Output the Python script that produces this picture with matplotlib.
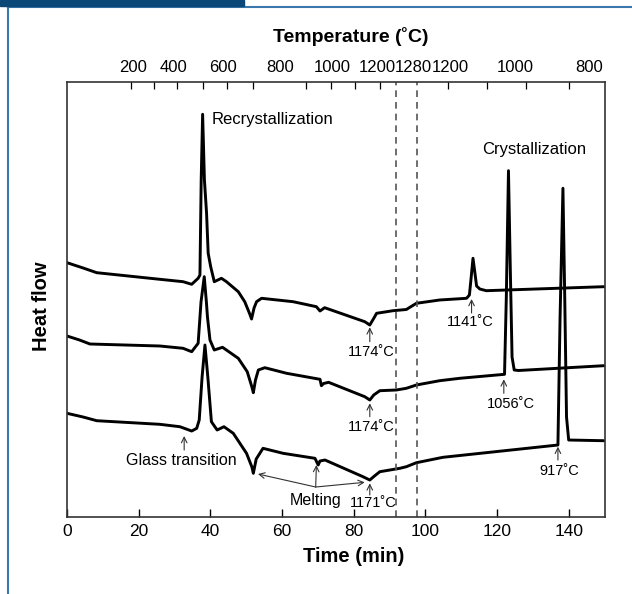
import matplotlib.pyplot as plt
from matplotlib.patches import Rectangle
from matplotlib.lines import Line2D

plt.rcParams['font.family'] = ['Liberation Sans', 'DejaVu Sans']

# DSC traces: time (min) vs heat flow (arbitrary units, offset per sample)
t1 = [0, 4.5, 8.3, 25.9, 32.4, 34.8, 36.6, 37.1, 37.45, 37.85, 38.35, 38.95, 39.4, 40.1, 41.1,
      43.1, 44.5, 47.8, 49.6, 51.0, 51.5, 52.2, 52.9, 54.3, 63.1, 69.6, 70.6, 71.9, 83.1, 84.5,
      85.5, 86.4, 91.0, 94.7, 97.5, 104.0, 111.5, 112.3, 112.8, 113.3, 113.8, 114.3, 115.2,
      117.0, 149.8]
h1 = [254.3, 249, 244.3, 237.7, 235.3, 232.7, 238.7, 242, 337, 402.7, 337, 303.7, 263.7, 250.3,
      235.3, 238.7, 235.3, 225.3, 215.3, 203, 198, 209, 215.3, 218.7, 215.3, 210.3, 206, 209.3,
      195.3, 192, 198, 203.7, 206.3, 207.5, 213.7, 217, 218.7, 222, 240, 258.7, 245, 231, 228,
      226.3, 230.3]

t2 = [0, 3.5, 6.4, 25.9, 32.4, 34.8, 36.6, 37.4, 38.3, 38.9, 39.2, 39.9, 41.1, 43.4, 47.8,
      50.3, 51.6, 52.0, 52.6, 53.4, 55.2, 61.3, 70.6, 71.0, 71.6, 73.0, 83.1, 84.5, 85.6,
      87.3, 91.9, 94.7, 97.5, 104.0, 109.6, 122.1, 122.6, 123.2, 123.7, 124.2, 124.8, 126.0,
      149.8]
h2 = [181, 177, 173, 171, 168.7, 165.3, 173.7, 215, 240.3, 215, 200, 177, 167, 169.7, 158.7,
      145.3, 130, 124.3, 137, 147, 149.3, 143.7, 137.7, 131.3, 133.5, 134.7, 120.3, 117, 122,
      126.3, 127, 128.7, 132, 136.3, 138.7, 142.7, 220, 346.3, 250, 160, 147, 146.5, 151.3]

t3 = [0, 4.5, 8.3, 25.9, 31.5, 34.8, 36.2, 36.9, 37.7, 38.5, 39.3, 40.3, 41.9, 43.8, 46.4,
      50.1, 51.6, 52.0, 52.8, 54.7, 60.3, 69.2, 70.1, 70.6, 72.0, 82.6, 84.5, 85.8, 87.3,
      92.9, 94.7, 97.5, 104.9, 137.0, 137.6, 138.4, 138.9, 139.4, 140.0, 149.8]
h3 = [103.7, 100, 96.3, 92.7, 90.3, 86, 88.7, 97, 140, 172, 140, 95.3, 87, 90.3, 83.7,
      63.7, 50, 43.7, 58, 68.7, 63.7, 58.7, 52, 56, 57, 40.3, 37, 41, 45.3,
      48.7, 50.3, 54.3, 59.7, 72, 200, 328.7, 220, 100, 77, 76.3]

time_ticks = [0, 20, 40, 60, 80, 100, 120, 140]
temp_tick_times = [18.0, 24.3, 30.6, 38.0, 44.7, 52.0, 59.4, 66.8, 73.8, 80.3, 87.3,
                   106.3, 117.2, 128.2, 140.0]
temp_label_times = [18.3, 29.6, 43.6, 59.4, 74.0, 86.6, 96.7, 106.9, 125.0, 145.8]
temp_labels = ['200', '400', '600', '800', '1000', '1200', '1280', '1200', '1000', '800']
hold_start, hold_end = 91.9, 97.6

fig = plt.figure(figsize=(6.32, 5.94), dpi=100)
ax = fig.add_axes([0.106, 0.1296, 0.8505, 0.7329])

for t, h in [(t1, h1), (t2, h2), (t3, h3)]:
    ax.plot(t, h, color='black', lw=2.1, solid_joinstyle='round', solid_capstyle='round')

for tx in (hold_start, hold_end):
    ax.axvline(tx, color='#555555', lw=1.2, ls=(0, (4, 3)))

ax.set_xlim(0, 150)
ax.set_ylim(0, 435.3)
ax.set_yticks([])
ax.set_xticks(time_ticks)
ax.tick_params(axis='x', direction='in', length=6, width=1, pad=5, labelsize=12.5)
for s in ax.spines.values():
    s.set_linewidth(1.2)
    s.set_color('#333333')

# temperature scale on top
ax2 = ax.twiny()
ax2.set_xlim(ax.get_xlim())
ax2.set_xticks(temp_label_times)
ax2.set_xticklabels(temp_labels)
ax2.set_xticks(temp_tick_times, minor=True)
ax2.tick_params(axis='x', which='major', length=0, pad=5, labelsize=12)
ax2.tick_params(axis='x', which='minor', direction='in', length=5, width=0.9)
for s in ax2.spines.values():
    s.set_visible(False)

fig.text(0.555, 0.939, 'Temperature (˚C)', ha='center', va='center', fontsize=14, fontweight='bold')
fig.text(0.5597, 0.063, 'Time (min)', ha='center', va='center', fontsize=14.5, fontweight='bold')
fig.text(0.065, 0.4837, 'Heat flow', ha='center', va='center', rotation=90,
         fontsize=14.5, fontweight='bold')

ax.text(40.3, 397, 'Recrystallization', ha='left', va='center', fontsize=12)
ax.text(115.9, 367, 'Crystallization', ha='left', va='center', fontsize=12)

arrow = dict(arrowstyle='->', lw=0.8, color='#333333', shrinkA=0, shrinkB=0)

# (x, arrow tip, arrow tail, text x, text y, text)
marks = [
    (112.9, 218, 204, 112.6, 195.3, '1141˚C'),
    (84.5, 189.7, 175.3, 85.0, 165.3, '1174˚C'),
    (84.5, 113.7, 100.3, 85.0, 90.3, '1174˚C'),
    (121.9, 137.7, 123.7, 124.0, 113, '1056˚C'),
    (137.0, 70.3, 57, 137.5, 46.3, '917˚C'),
    (84.5, 33.7, 22, 85.4, 13.7, '1171˚C'),
]
for x, tip, tail, tx, ty, s in marks:
    ax.annotate('', xy=(x, tip), xytext=(x, tail), arrowprops=arrow)
    ax.text(tx, ty, s, ha='center', va='center', fontsize=10.5)

ax.annotate('', xy=(32.7, 81), xytext=(32.7, 67), arrowprops=arrow)
ax.text(32.0, 57, 'Glass transition', ha='center', va='center', fontsize=11.5)

ax.text(69.3, 16.3, 'Melting', ha='center', va='center', fontsize=11.5)
for tip in [(53.3, 43), (69.6, 52), (83.1, 34.7)]:
    ax.annotate('', xy=tip, xytext=(69.4, 30), arrowprops=arrow)

# page frame
fig.patches.append(Rectangle((0, 1 - 6 / 594), 244 / 632, 6 / 594, transform=fig.transFigure,
                             color='#0b4777', zorder=5))
fig.lines.append(Line2D([8 / 632, 1], [1 - 6.8 / 594] * 2, transform=fig.transFigure,
                        color='#3a78ad', lw=1.5))
fig.lines.append(Line2D([8 / 632] * 2, [0, 1 - 6 / 594], transform=fig.transFigure,
                        color='#3a78ad', lw=1.5))

fig.savefig('out.png', dpi=100)
